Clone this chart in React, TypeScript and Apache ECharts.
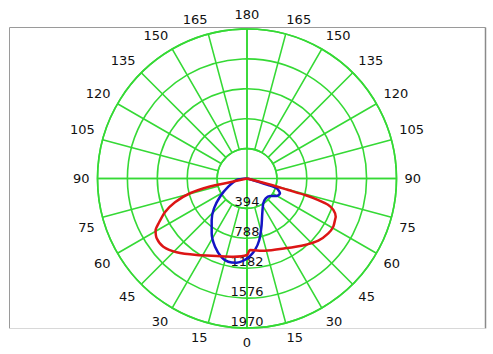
import React, { useEffect, useRef } from "react";
import * as echarts from "echarts";

// Red curve (C0-C180 plane): [intensity, angle in degrees]
const redIntensity = [0, 229, 500, 776, 999, 1169, 1313, 1384, 1427, 1423, 1343, 1207, 1097, 1046, 1008, 944, 981, 1048, 1162, 1247, 1292, 1302, 1282, 1273, 1211, 1127, 982, 795, 565, 336, 0];
const redAngle = [90, 77.7, 77.8, 75.5, 71.8, 67.7, 62.9, 60.5, 56.5, 50.8, 43.6, 33.3, 21.4, 9.9, 0, 357.6, 346, 331.4, 318.9, 311.1, 304, 299.2, 295.2, 293.3, 290, 288, 286.8, 285.9, 285.6, 284.7, 270];

// Blue curve (C90-C270 plane)
const blueIntensity = [0, 155, 294, 412, 477, 454, 381, 359, 391, 501, 663, 826, 948, 1022, 1085, 1118, 1124, 1091, 993, 859, 718, 586, 429, 269, 137, 0];
const blueAngle = [286, 285.8, 287, 288.3, 294.2, 300.5, 307.3, 316.6, 326.7, 336.3, 343.3, 348.7, 353.6, 357.8, 2.6, 7, 12.7, 17.8, 25.1, 32.8, 40.4, 47.9, 56, 66.3, 81.7, 90];

const radiusMax = 1970;
const radiusStep = 394;
const angleStep = 15;

const GREEN = "#35d935";
const FONT = "DejaVu Sans";

export default function App() {
  const ref = useRef<HTMLDivElement>(null);
  useEffect(() => {
    document.body.style.margin = "0";
    const chart = echarts.init(ref.current!, null, { renderer: "svg" });
    const cx = 247;
    const cy = 178.5;
    const R = 149.5;
    const innerR = R * radiusStep / radiusMax;
    const gridLine = { color: GREEN, width: 1.6 };
    const labelStyle = { color: "#111", fontSize: 13, fontFamily: FONT };
    const styleFor: Record<number, string> = { 15: "l15", 165: "l165", 195: "r165", 345: "r15", 75: "dn", 285: "dn", 105: "up", 255: "up" };
    chart.setOption({
      animation: false,
      backgroundColor: "#ffffff",
      polar: [
        { center: [cx, cy], radius: [innerR, R] },
        { center: [cx, cy], radius: [0, R] },
      ],
      angleAxis: [
        {
          polarIndex: 0,
          type: "value",
          min: 0,
          max: 360,
          interval: angleStep,
          startAngle: 270,
          clockwise: true,
          axisLine: { show: true, lineStyle: gridLine },
          axisTick: { show: false },
          splitLine: { show: true, lineStyle: gridLine },
          axisLabel: {
            show: true,
            margin: 8,
            ...labelStyle,
            formatter: (v: number) => {
              const txt = String(v <= 180 ? v : 360 - v);
              const s = styleFor[v];
              return s ? `{${s}|${txt}}` : txt;
            },
            rich: {
              l15: { ...labelStyle, padding: [0, 14, 0, 0] },
              r15: { ...labelStyle, padding: [0, 0, 0, 14] },
              l165: { ...labelStyle, padding: [0, 22, 0, 0] },
              r165: { ...labelStyle, padding: [0, 0, 0, 22] },
              up: { ...labelStyle, padding: [0, 0, 16, 0] },
              dn: { ...labelStyle, padding: [16, 0, 0, 0] },
            },
          },
          z: 1,
        },
        {
          polarIndex: 1,
          type: "value",
          min: 0,
          max: 360,
          interval: 90,
          startAngle: 270,
          clockwise: true,
          axisLine: { show: false },
          axisTick: { show: false },
          axisLabel: { show: false },
          splitLine: { show: true, lineStyle: gridLine },
          z: 1,
        },
      ],
      radiusAxis: [
        {
          polarIndex: 0,
          type: "value",
          min: 0,
          max: 1,
          show: false,
        },
        {
          polarIndex: 1,
          type: "value",
          min: 0,
          max: radiusMax,
          interval: radiusStep,
          axisLine: { show: true, lineStyle: gridLine },
          axisTick: { show: false },
          splitLine: { show: true, lineStyle: gridLine },
          axisLabel: {
            show: true,
            showMinLabel: false,
            margin: 0,
            align: "center",
            verticalAlign: "bottom",
            ...labelStyle,
            formatter: (v: number) => String(v),
          },
          z: 3,
        },
      ],
      graphic: [
        { type: "line", shape: { x1: 9.5, y1: 27.5, x2: 485.5, y2: 27.5 }, style: { stroke: "#9a9a9a", lineWidth: 1 }, z: -1 },
        { type: "line", shape: { x1: 9.5, y1: 27.5, x2: 9.5, y2: 328.5 }, style: { stroke: "#9a9a9a", lineWidth: 1 }, z: -1 },
        { type: "line", shape: { x1: 485.5, y1: 27.5, x2: 485.5, y2: 328.5 }, style: { stroke: "#8a8a8a", lineWidth: 1.5 }, z: -1 },
        { type: "line", shape: { x1: 9.5, y1: 328.5, x2: 485.5, y2: 328.5 }, style: { stroke: "#d8d8d8", lineWidth: 1 }, z: -1 },
      ],
      series: [
        {
          type: "line",
          coordinateSystem: "polar",
          polarIndex: 1,
          data: blueIntensity.map((v, i) => [v, blueAngle[i]]),
          showSymbol: false,
          smooth: 0.25,
          lineStyle: { color: "#1414c4", width: 2.5 },
          z: 4,
        },
        {
          type: "line",
          coordinateSystem: "polar",
          polarIndex: 1,
          data: redIntensity.map((v, i) => [v, redAngle[i]]),
          showSymbol: false,
          smooth: 0.25,
          lineStyle: { color: "#dc1515", width: 2.5 },
          z: 5,
        },
      ],
    });
    return () => chart.dispose();
  }, []);
  return <div ref={ref} style={{ position: "fixed", left: 0, top: 0, width: 493, height: 354 }} />;
}
